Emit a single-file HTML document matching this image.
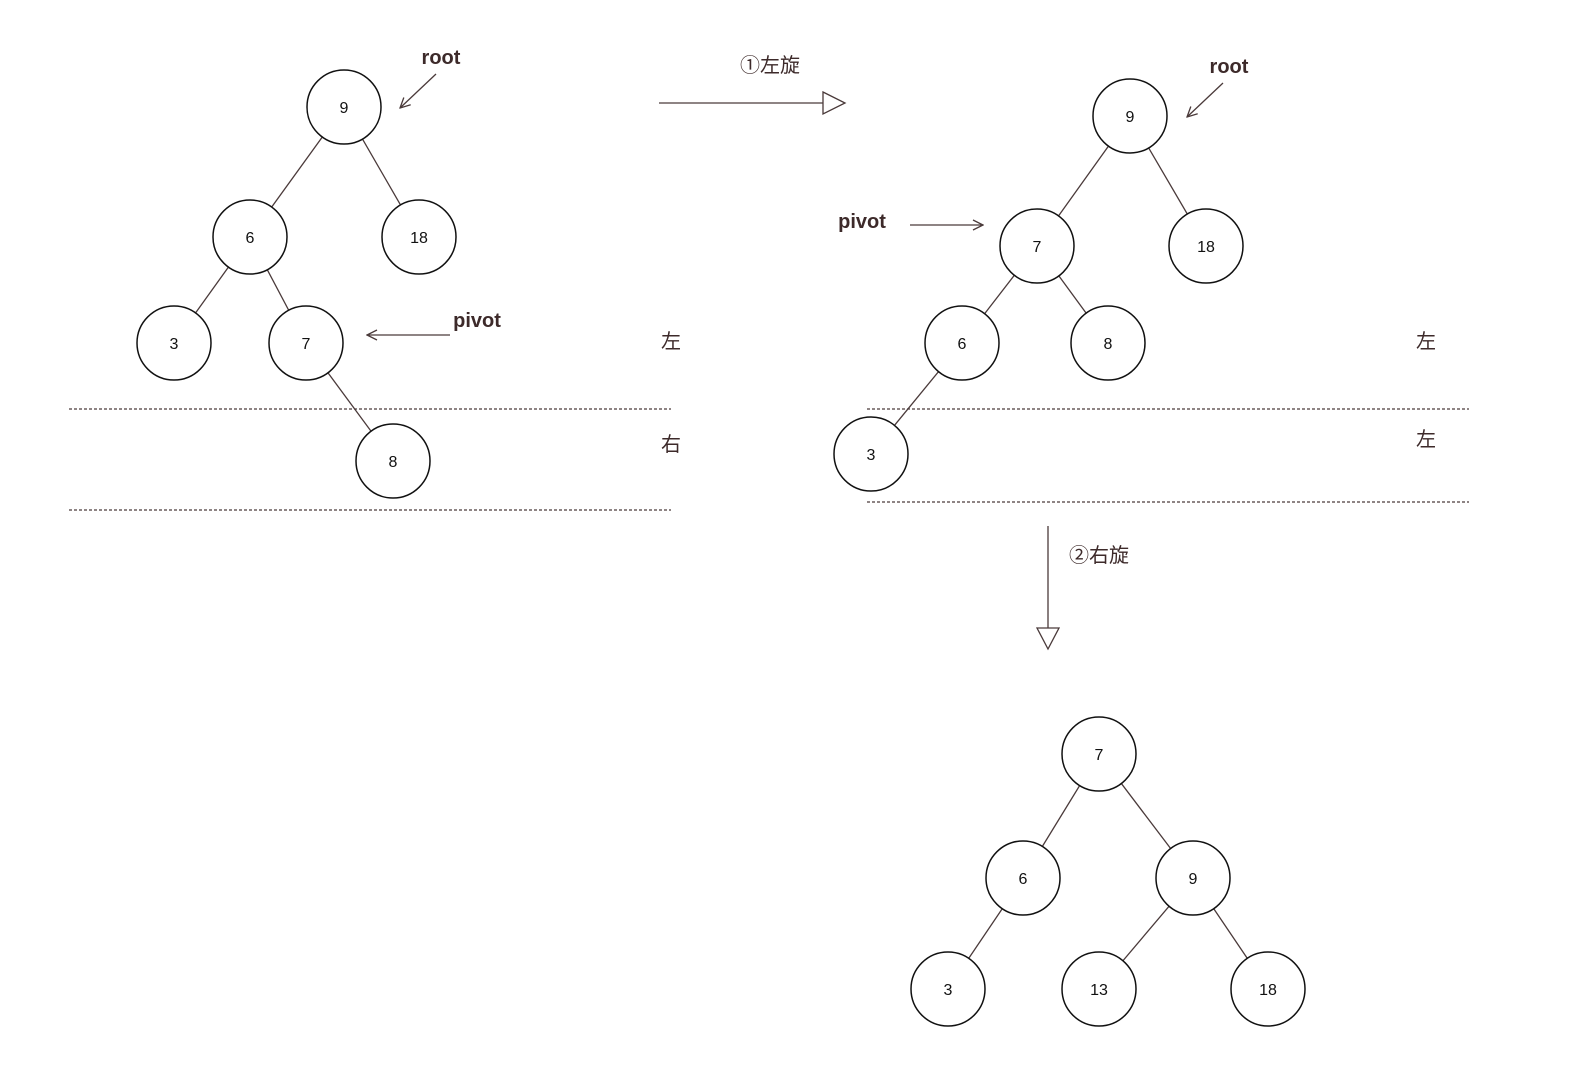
<!DOCTYPE html>
<html><head><meta charset="utf-8"><style>body{margin:0;background:#fff}</style></head>
<body>
<svg width="1596" height="1078" viewBox="0 0 1596 1078" xmlns="http://www.w3.org/2000/svg">
<defs>
<marker id="op" viewBox="0 0 12 12" refX="11" refY="6" markerWidth="12" markerHeight="12" markerUnits="userSpaceOnUse" orient="auto"><path d="M1,1 L11,6 L1,11" fill="none" stroke="#4a3a3a" stroke-width="1.3"/></marker>
</defs>
<g stroke="#4a3a3a" stroke-width="1.3">
<!-- tree1 -->
<line x1="344" y1="107" x2="250" y2="237"/><line x1="344" y1="107" x2="419" y2="237"/>
<line x1="250" y1="237" x2="174" y2="343"/><line x1="250" y1="237" x2="306" y2="343"/>
<line x1="306" y1="343" x2="393" y2="461"/>
<!-- tree2 -->
<line x1="1130" y1="116" x2="1037" y2="246"/><line x1="1130" y1="116" x2="1206" y2="246"/>
<line x1="1037" y1="246" x2="962" y2="343"/><line x1="1037" y1="246" x2="1108" y2="343"/>
<line x1="962" y1="343" x2="871" y2="454"/>
<!-- tree3 -->
<line x1="1099" y1="754" x2="1023" y2="878"/><line x1="1099" y1="754" x2="1193" y2="878"/>
<line x1="1023" y1="878" x2="948" y2="989"/><line x1="1193" y1="878" x2="1099" y2="989"/><line x1="1193" y1="878" x2="1268" y2="989"/>
<!-- dashed -->
<g stroke-dasharray="3,2" stroke-width="1.2">
<line x1="69" y1="409" x2="671" y2="409"/><line x1="69" y1="510" x2="671" y2="510"/>
<line x1="867" y1="409" x2="1469" y2="409"/><line x1="867" y1="502" x2="1469" y2="502"/>
</g>
<!-- pointer arrows -->
<line x1="436" y1="74" x2="400" y2="108" marker-end="url(#op)"/>
<line x1="450" y1="335" x2="367" y2="335" marker-end="url(#op)"/>
<line x1="1223" y1="83" x2="1187" y2="117" marker-end="url(#op)"/>
<line x1="910" y1="225" x2="983" y2="225" marker-end="url(#op)"/>
<!-- big arrows -->
<line x1="659" y1="103" x2="823" y2="103"/>
<path d="M823,92 L845,103 L823,114 Z" fill="#fff"/>
<line x1="1048" y1="526" x2="1048" y2="628"/>
<path d="M1037,628 L1059,628 L1048,649 Z" fill="#fff"/>
</g>
<g fill="#fff" stroke="#111" stroke-width="1.5">
<circle cx="344" cy="107" r="37"/><circle cx="250" cy="237" r="37"/><circle cx="419" cy="237" r="37"/>
<circle cx="174" cy="343" r="37"/><circle cx="306" cy="343" r="37"/><circle cx="393" cy="461" r="37"/>
<circle cx="1130" cy="116" r="37"/><circle cx="1037" cy="246" r="37"/><circle cx="1206" cy="246" r="37"/>
<circle cx="962" cy="343" r="37"/><circle cx="1108" cy="343" r="37"/><circle cx="871" cy="454" r="37"/>
<circle cx="1099" cy="754" r="37"/><circle cx="1023" cy="878" r="37"/><circle cx="1193" cy="878" r="37"/>
<circle cx="948" cy="989" r="37"/><circle cx="1099" cy="989" r="37"/><circle cx="1268" cy="989" r="37"/>
</g>
<g font-family="Liberation Sans, sans-serif" font-size="16" fill="#111" text-anchor="middle">
<text x="344" y="113">9</text><text x="250" y="243">6</text><text x="419" y="243">18</text>
<text x="174" y="349">3</text><text x="306" y="349">7</text><text x="393" y="467">8</text>
<text x="1130" y="122">9</text><text x="1037" y="252">7</text><text x="1206" y="252">18</text>
<text x="962" y="349">6</text><text x="1108" y="349">8</text><text x="871" y="460">3</text>
<text x="1099" y="760">7</text><text x="1023" y="884">6</text><text x="1193" y="884">9</text>
<text x="948" y="995">3</text><text x="1099" y="995">13</text><text x="1268" y="995">18</text>
</g>
<g font-family="Liberation Sans, sans-serif" font-size="20" font-weight="bold" fill="#3d2a2a" text-anchor="middle">
<text x="441" y="64">root</text><text x="477" y="327">pivot</text>
<text x="1229" y="73">root</text><text x="862" y="228">pivot</text>
</g>
<g font-family="Liberation Sans, 'Noto Sans CJK SC', sans-serif" font-size="20" fill="#3d2a2a" text-anchor="middle">
<text x="671" y="348">左</text><text x="671" y="451">右</text>
<text x="1426" y="348">左</text><text x="1426" y="446">左</text>
<text x="770" y="72">①左旋</text><text x="1099" y="562">②右旋</text>
</g>
</svg>
</body></html>
